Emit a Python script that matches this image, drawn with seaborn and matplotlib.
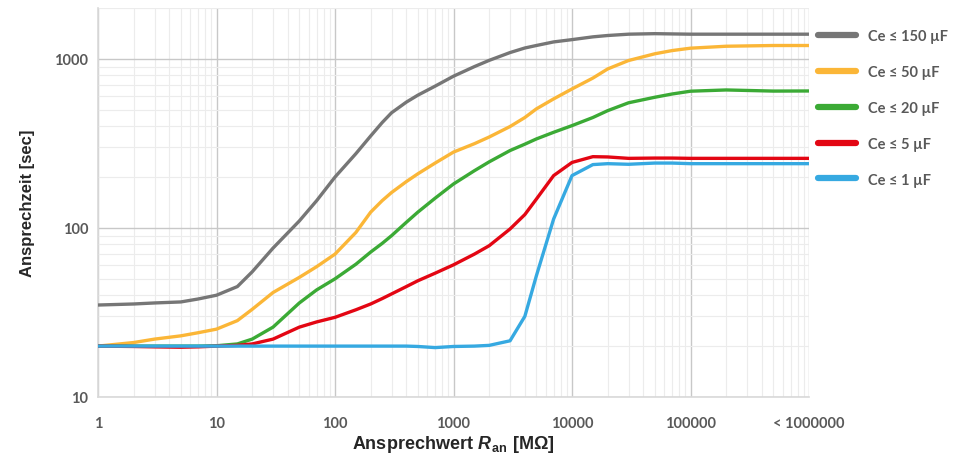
import matplotlib
matplotlib.use("Agg")
import matplotlib.pyplot as plt
from matplotlib.lines import Line2D
from matplotlib.ticker import FixedLocator, LogLocator, NullFormatter
import numpy as np
import pandas as pd
import seaborn as sns

## donnees

r_an = [1, 2, 3, 5, 7, 10, 15, 20, 30, 50, 70, 100, 150, 200, 250, 300, 400,
        500, 700, 1000, 1500, 2000, 3000, 4000, 5000, 7000, 10000, 15000,
        20000, 30000, 50000, 70000, 100000, 200000, 500000, 1000000]

t_150 = [35, 35.5, 36, 36.5, 38, 40, 45, 55, 76, 110, 145, 200, 275, 350, 420,
         480, 555, 610, 690, 790, 900, 980, 1090, 1160, 1200, 1260, 1300, 1350,
         1375, 1400, 1410, 1405, 1400, 1400, 1400, 1400]
t_50 = [20, 21, 22, 23, 24, 25.2, 28.3, 33, 41.5, 51, 59, 70, 94, 124, 145,
        162, 188, 209, 242, 281, 315, 345, 398, 450, 506, 580, 664, 770, 872,
        978, 1072, 1120, 1157, 1188, 1200, 1200]
t_20 = [20, 20, 20, 20, 20, 20.1, 20.6, 22, 25.9, 36, 43, 50, 61, 72, 81, 90,
        108, 124, 150, 182, 218, 246, 287, 313, 336, 368, 403, 450, 494, 550,
        593, 620, 644, 655, 645, 646]
t_5 = [20, 19.9, 19.8, 19.7, 19.8, 20, 20.2, 20.6, 22, 25.9, 27.8, 29.6, 32.8,
       35.5, 38.2, 40.7, 45, 48.7, 54, 60.5, 70, 78.5, 98.6, 120, 148, 204,
       244, 264, 263, 258, 259, 259, 258, 258, 258, 258]
t_1 = [20, 20, 20, 20, 20, 20, 20, 20, 20, 20, 20, 20, 20, 20, 20, 20, 20,
       19.9, 19.6, 19.9, 20, 20.2, 21.5, 30, 52, 113, 204, 237, 240, 238, 242,
       242, 240, 240, 240, 240]

serien = ["Ce ≤ 150 µF", "Ce ≤ 50 µF", "Ce ≤ 20 µF", "Ce ≤ 5 µF", "Ce ≤ 1 µF"]
couleurs = ["#767676", "#FBB637", "#3BAA35", "#E30613", "#36A9E1"]

x_ticks = [1, 10, 100, 1000, 10000, 100000, 1000000]
x_labels = ["1", "10", "100", "1000", "10000", "100000", "< 1000000"]
y_ticks = [10, 100, 1000]

df = pd.DataFrame({
    "R": r_an * 5,
    "t": t_150 + t_50 + t_20 + t_5 + t_1,
    "serie": sum([[s] * len(r_an) for s in serien], []),
})

sns.set_style("white")
plt.rcParams["font.family"] = ["Lato", "DejaVu Sans"]
plt.rcParams["mathtext.fontset"] = "custom"
plt.rcParams["mathtext.bfit"] = "Liberation Sans:italic:bold"
plt.rcParams["mathtext.bf"] = "Liberation Sans:bold"

fig = plt.figure(figsize=(9.73, 4.6), dpi=100)
ax = fig.add_axes([98 / 973, 62 / 460, 711 / 973, 389 / 460])

sns.lineplot(data=df, x="R", y="t", hue="serie", palette=couleurs,
             hue_order=serien, linewidth=2.4, legend=False, ax=ax,
             zorder=3)

ax.set_xscale("log")
ax.set_yscale("log")
ax.set_xlim(1, 1000000)
ax.set_ylim(10, 2000)

ax.xaxis.set_major_locator(FixedLocator(x_ticks))
ax.set_xticklabels(x_labels)
ax.yaxis.set_major_locator(FixedLocator(y_ticks))
ax.set_yticklabels([str(v) for v in y_ticks])
ax.xaxis.set_minor_locator(LogLocator(base=10, subs=np.arange(2, 10)))
ax.yaxis.set_minor_locator(LogLocator(base=10, subs=np.arange(2, 10)))
ax.xaxis.set_minor_formatter(NullFormatter())
ax.yaxis.set_minor_formatter(NullFormatter())

ax.grid(which="major", color="#c8c8c8", linewidth=1.0, zorder=0)
ax.grid(which="minor", color="#ececec", linewidth=0.8, zorder=0)
ax.tick_params(which="both", length=0)
ax.tick_params(axis="x", pad=14, labelsize=10.5, labelcolor="#595959")
ax.tick_params(axis="y", pad=7, labelsize=10.5, labelcolor="#595959")
for lab in ax.get_xticklabels() + ax.get_yticklabels():
    lab.set_fontweight("bold")

for s in ["top", "right"]:
    ax.spines[s].set_visible(False)
for s in ["left", "bottom"]:
    ax.spines[s].set_color("#d9d9d9")
    ax.spines[s].set_linewidth(1.2)

ax.set_xlabel(r"$\mathbf{Ansprechwert}\ \mathbfit{R}_{\mathbf{an}}\ \mathbf{[M\Omega]}$",
              fontsize=13, labelpad=2)
ax.set_ylabel("Ansprechzeit [sec]", family="Liberation Sans", fontsize=12,
              fontweight="bold", labelpad=14)

handles = [Line2D([0], [0], color=c, linewidth=4.5, solid_capstyle="round")
           for c in couleurs]
leg = ax.legend(handles, serien, loc="upper left",
                bbox_to_anchor=(818 / 973, 1 - 30 / 460),
                bbox_transform=fig.transFigure, frameon=False,
                handlelength=2.6, handletextpad=0.8, labelspacing=1.5,
                borderaxespad=0, borderpad=0,
                prop={"weight": "bold", "size": 10.5})
for t in leg.get_texts():
    t.set_color("#595959")

fig.savefig("out.png", dpi=100)
